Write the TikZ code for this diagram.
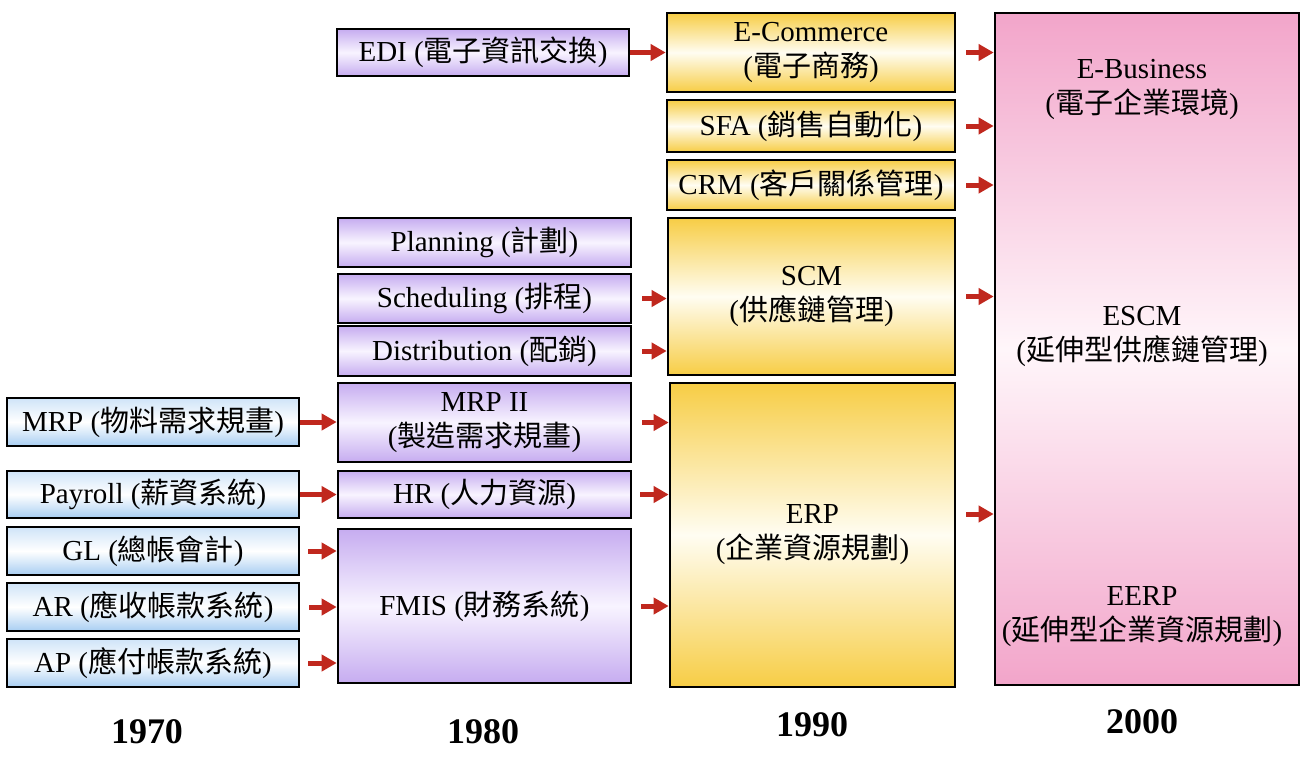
\documentclass[tikz,border=0pt]{standalone}
\usepackage{fontspec}
\setmainfont{Liberation Serif}
\newfontfamily\cjk{Noto Sans CJK TC}
\usetikzlibrary{arrows.meta}
\newcommand{\zh}[1]{{\cjk #1}}
\definecolor{arrowred}{HTML}{C0281E}
\definecolor{bluetop}{HTML}{CFE4F8}
\definecolor{bluebot}{HTML}{A8CEF2}
\definecolor{purpleend}{HTML}{C6ACF0}
\definecolor{purplemid}{HTML}{F8F4FF}
\definecolor{goldend}{HTML}{F7CD45}
\definecolor{goldmid}{HTML}{FFFDF2}
\definecolor{pinkend}{HTML}{F2A5CA}
\definecolor{pinkmid}{HTML}{FFF6FA}

\begin{document}
\begin{tikzpicture}[x=0.5pt, y=-0.5pt,
    box/.style={draw, line width=1.3pt, inner sep=0pt, align=center,
        font=\fontsize{14.5}{17.5}\selectfont},
    bluebox/.style={box, top color=bluetop, bottom color=bluebot, middle color=white},
    purplebox/.style={box, top color=purpleend, bottom color=purpleend, middle color=purplemid},
    goldbox/.style={box, top color=goldend, bottom color=goldend, middle color=goldmid},
    pinkbox/.style={box, top color=pinkend, bottom color=pinkend, middle color=pinkmid},
    flow/.style={draw=arrowred, line width=2.5pt, -{Triangle[length=7.5pt, width=8pt]}},
    label/.style={align=center, font=\fontsize{14.5}{17.5}\selectfont},
    year/.style={font=\fontsize{18}{20}\selectfont\bfseries}]
    \useasboundingbox (0,0) rectangle (1308,768);

    % Draw nodes (1970)
    \node[bluebox, minimum width=146pt, minimum height=24pt] (mrp) at (153,422) {MRP (\zh{物料需求規畫})};
    \node[bluebox, minimum width=146pt, minimum height=23.5pt] (payroll) at (153,494.5) {Payroll (\zh{薪資系統})};
    \node[bluebox, minimum width=146pt, minimum height=24pt] (gl) at (153,551) {GL (\zh{總帳會計})};
    \node[bluebox, minimum width=146pt, minimum height=24pt] (ar) at (153,607) {AR (\zh{應收帳款系統})};
    \node[bluebox, minimum width=146pt, minimum height=24pt] (ap) at (153,663) {AP (\zh{應付帳款系統})};

    % Draw nodes (1980)
    \node[purplebox, minimum width=146pt, minimum height=23.5pt] (edi) at (483,52.5) {EDI (\zh{電子資訊交換})};
    \node[purplebox, minimum width=146.5pt, minimum height=24.5pt] (plan) at (484.5,242.5) {Planning (\zh{計劃})};
    \node[purplebox, minimum width=146.5pt, minimum height=24.5pt] (sched) at (484.5,298.5) {Scheduling (\zh{排程})};
    \node[purplebox, minimum width=146.5pt, minimum height=25pt] (dist) at (484.5,351) {Distribution (\zh{配銷})};
    \node[purplebox, minimum width=146.5pt, minimum height=39.5pt] (mrp2) at (484.5,422.5) {MRP II\\(\zh{製造需求規畫})};
    \node[purplebox, minimum width=146.5pt, minimum height=23.5pt] (hr) at (484.5,494.5) {HR (\zh{人力資源})};
    \node[purplebox, minimum width=146.5pt, minimum height=77pt] (fmis) at (484.5,606) {FMIS (\zh{財務系統})};

    % Draw nodes (1990)
    \node[goldbox, minimum width=144pt, minimum height=39.5pt] (ecom) at (811,52.5) {E-Commerce\\(\zh{電子商務})};
    \node[goldbox, minimum width=144pt, minimum height=26pt] (sfa) at (811,126) {SFA (\zh{銷售自動化})};
    \node[goldbox, minimum width=144pt, minimum height=25pt] (crm) at (811,185) {CRM (\zh{客戶關係管理})};
    \node[goldbox, minimum width=143.5pt, minimum height=78.5pt] (scm) at (811.5,296.5) {SCM\\(\zh{供應鏈管理})};
    \node[goldbox, minimum width=142.5pt, minimum height=152pt] (erp) at (812.5,535) {ERP\\(\zh{企業資源規劃})};

    % Draw nodes (2000)
    \node[pinkbox, minimum width=152pt, minimum height=336pt] (ebiz) at (1147,349) {};
    \node[label] (ebiztext) at (1142,89) {E-Business\\(\zh{電子企業環境})};
    \node[label] (escm) at (1142,336) {ESCM\\(\zh{延伸型供應鏈管理})};
    \node[label] (eerp) at (1142,617) {EERP\\(\zh{延伸型企業資源規劃})};

    % Draw connections
    \draw[flow] (mrp.east) -- (mrp.east -| mrp2.west);
    \draw[flow] (payroll.east) -- (payroll.east -| hr.west);
    \draw[flow, shorten <=4pt] (gl.east) -- (gl.east -| fmis.west);
    \draw[flow, shorten <=4.5pt] (ar.east) -- (ar.east -| fmis.west);
    \draw[flow, shorten <=4pt] (ap.east) -- (ap.east -| fmis.west);

    \draw[flow] (edi.east) -- (edi.east -| ecom.west);
    \draw[flow, shorten <=5pt] (sched.east) -- (sched.east -| scm.west);
    \draw[flow, shorten <=5pt] (dist.east) -- (dist.east -| scm.west);
    \draw[flow, shorten <=5pt] (mrp2.east) -- (mrp2.east -| erp.west);
    \draw[flow, shorten <=4pt] (hr.east) -- (hr.east -| erp.west);
    \draw[flow, shorten <=4.5pt] (fmis.east) -- (fmis.east -| erp.west);

    \draw[flow, shorten <=5pt] (ecom.east) -- (ecom.east -| ebiz.west);
    \draw[flow, shorten <=5pt] (sfa.east) -- (sfa.east -| ebiz.west);
    \draw[flow, shorten <=5pt] (crm.east) -- (crm.east -| ebiz.west);
    \draw[flow, shorten <=5pt] (scm.east) -- (scm.east -| ebiz.west);
    \draw[flow, shorten <=5pt] ([yshift=10.5pt]erp.east) -- ([yshift=10.5pt]erp.east -| ebiz.west);

    % Labels
    \node[year] (y1970) at (147,732) {1970};
    \node[year] (y1980) at (483,732) {1980};
    \node[year] (y1990) at (812,725) {1990};
    \node[year] (y2000) at (1142,722) {2000};
\end{tikzpicture}
\end{document}
